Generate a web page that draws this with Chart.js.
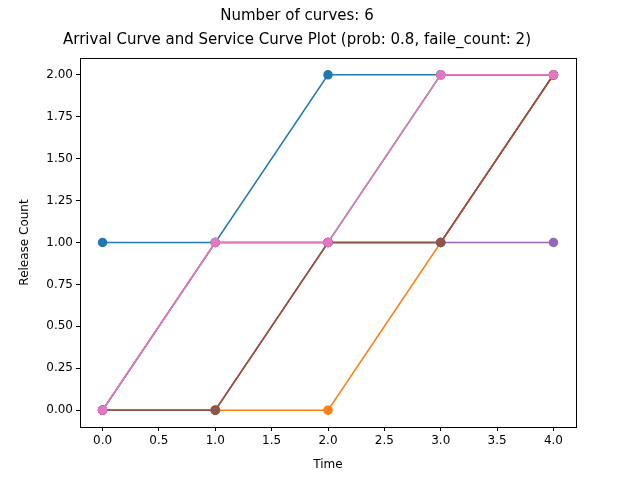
<!DOCTYPE html>
<html>
<head>
<script src="https://cdn.jsdelivr.net/npm/chart.js@4"></script>
<style>body{margin:0;background:#fff}</style>
</head>
<body>
<canvas id="c" width="640" height="480"></canvas>
<script>
const times = [0, 1, 2, 3, 4];
const seriesBlue = [1, 1, 2, 2, 2];
const seriesOrange = [0, 0, 0, 1, 2];
const seriesGreen = [0, 1, 1, 2, 2];
const seriesRed = [0, 0, 1, 1, 2];
const seriesPurple = [0, 1, 1, 1, 1];
const seriesBrown = [0, 0, 1, 1, 2];
const seriesPink = [0, 1, 1, 2, 2];
const xTicks = [0, 0.5, 1, 1.5, 2, 2.5, 3, 3.5, 4];
const yTicks = [0, 0.25, 0.5, 0.75, 1, 1.25, 1.5, 1.75, 2];

const all = [
  [seriesBlue, '#1f77b4'], [seriesOrange, '#ff7f0e'], [seriesGreen, '#2ca02c'],
  [seriesRed, '#d62728'], [seriesPurple, '#9467bd'], [seriesBrown, '#8c564b'],
  [seriesPink, '#e377c2']
];

// later series drawn on top, like matplotlib
const datasets = all.map(([vals, col], i) => ({
  data: times.map((t, k) => ({ x: t, y: vals[k] })),
  borderColor: col, backgroundColor: col,
  borderWidth: 1.5, pointRadius: 4, pointHoverRadius: 4,
  order: all.length - i
}));

const frame = {
  id: 'frame',
  afterDraw(chart) {
    const a = chart.chartArea, ctx = chart.ctx;
    ctx.save();
    ctx.strokeStyle = '#000';
    ctx.lineWidth = 1;
    ctx.strokeRect(a.left + 0.5, a.top + 0.5, a.right - a.left, a.bottom - a.top);
    ctx.restore();
  }
};

const tickFont = { family: 'DejaVu Sans', size: 12 };

new Chart(document.getElementById('c'), {
  type: 'line',
  data: { datasets },
  plugins: [frame],
  options: {
    responsive: false,
    animation: false,
    layout: { padding: { left: 18, right: 64, top: 0, bottom: 8 } },
    plugins: {
      legend: { display: false },
      tooltip: { enabled: false },
      title: {
        display: true,
        text: ['Number of curves: 6', 'Arrival Curve and Service Curve Plot (prob: 0.8, faile_count: 2)'],
        color: '#000',
        font: { family: 'DejaVu Sans', size: 15, weight: 'normal', lineHeight: 1.6 },
        padding: { top: 4, bottom: 6 }
      }
    },
    scales: {
      x: {
        type: 'linear', min: -0.2, max: 4.2,
        afterBuildTicks: s => { s.ticks = xTicks.map(v => ({ value: v })); },
        afterFit: s => { s.height = 45; },
        ticks: { color: '#000', font: tickFont, maxRotation: 0, callback: v => v.toFixed(1) },
        grid: { drawOnChartArea: false, color: '#000', tickLength: 4 },
        border: { color: '#000' },
        title: { display: true, text: 'Time', color: '#000', font: tickFont, padding: 0 }
      },
      y: {
        min: -0.1, max: 2.1,
        afterBuildTicks: s => { s.ticks = yTicks.map(v => ({ value: v })); },
        afterFit: s => { s.width = 62; },
        ticks: { color: '#000', font: tickFont, callback: v => v.toFixed(2) },
        grid: { drawOnChartArea: false, color: '#000', tickLength: 4 },
        border: { color: '#000' },
        title: { display: true, text: 'Release Count', color: '#000', font: tickFont, padding: 0 }
      }
    }
  }
});
</script>
</body>
</html>
